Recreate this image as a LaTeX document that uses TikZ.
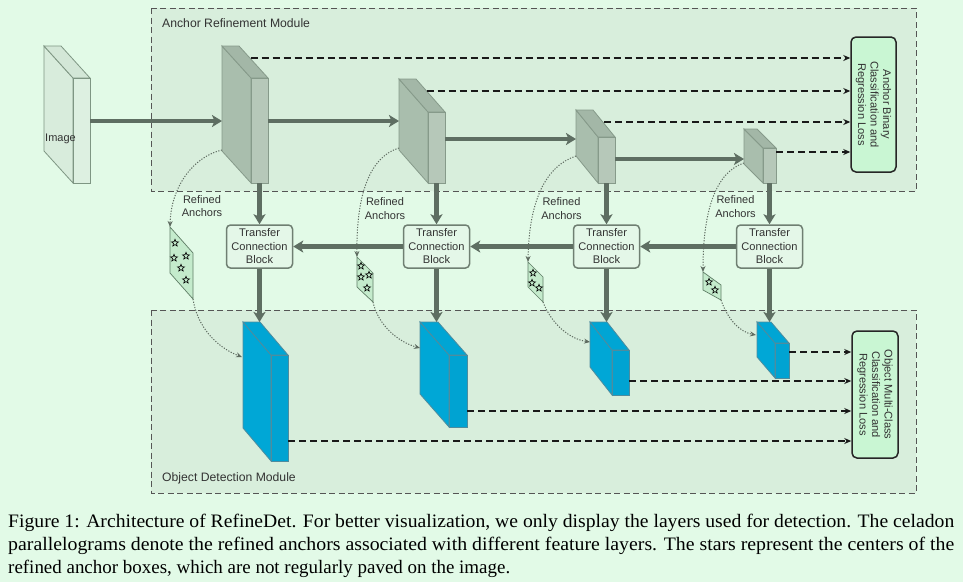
\documentclass[tikz,border=0pt]{standalone}
\usepackage{fontspec}
\setmainfont{Liberation Serif}
\setsansfont{Liberation Sans}
\usetikzlibrary{arrows.meta,shapes.geometric}
\definecolor{bgc}{HTML}{E2FAE7}
\definecolor{modc}{HTML}{D8EEDC}
\definecolor{modedge}{HTML}{555555}
\definecolor{arrc}{HTML}{5E6E62}
\definecolor{grayfront}{HTML}{A9BEAD}
\definecolor{grayside}{HTML}{B6C8B9}
\definecolor{graytop}{HTML}{A3B7A7}
\definecolor{grayedge}{HTML}{869A8A}
\definecolor{imgfront}{HTML}{D8ECDC}
\definecolor{imgside}{HTML}{DDF0E1}
\definecolor{imgtop}{HTML}{D3E7D7}
\definecolor{imgedge}{HTML}{7E9683}
\definecolor{bluefront}{HTML}{00A7D6}
\definecolor{blueside}{HTML}{00A3D2}
\definecolor{bluetop}{HTML}{00A5D4}
\definecolor{blueedge}{HTML}{4E8C9E}
\definecolor{tcbfill}{HTML}{E4F7E8}
\definecolor{tcbedge}{HTML}{6F7F72}
\definecolor{lossfill}{HTML}{C9F6D3}
\definecolor{parafill}{HTML}{C4EBCC}
\definecolor{paraedge}{HTML}{5F7D66}
\definecolor{txt}{HTML}{333333}
\definecolor{dotc}{HTML}{5E6B60}
% #1 name, #2 x0, #3 ytop, #4 w, #5 dx, #6 dy, #7 H, #8 palette
\newcommand\mycuboid[8]{%
  \filldraw[fill=#8front,draw=#8edge,line width=0.8pt] (#2,#3) -- (#2+#5,#3+#6) -- (#2+#5,#3+#6+#7) -- (#2,#3+#7) -- cycle;
  \filldraw[fill=#8top,draw=#8edge,line width=0.8pt] (#2,#3) -- (#2+#4,#3) -- (#2+#4+#5,#3+#6) -- (#2+#5,#3+#6) -- cycle;
  \filldraw[fill=#8side,draw=#8edge,line width=0.8pt] (#2+#5,#3+#6) rectangle (#2+#5+#4,#3+#6+#7);
}
\tikzset{
  module/.style={draw=modedge,fill=modc,line width=0.8pt,dash pattern=on 6pt off 3.5pt},
  modlabel/.style={anchor=west,inner sep=0,font=\sffamily\fontsize{12.2}{14}\selectfont,text=txt},
  thick arrow/.style={draw=arrc,line width=4.5pt,-{Stealth[length=10pt,width=12pt,inset=2.5pt]}},
  dash arrow/.style={draw=black!90,line width=1.2pt,dash pattern=on 7pt off 4pt,-{Stealth[length=7pt,width=6pt]}},
  dot arrow/.style={draw=dotc,line width=1pt,dash pattern=on 1.2pt off 1.5pt,-{Stealth[length=6pt,width=5pt]}},
  tcb/.style={draw=tcbedge,line width=1.5pt,fill=tcbfill,rounded corners=4pt,minimum width=66pt,minimum height=43pt,align=center,inner sep=0,font=\sffamily\fontsize{11.1}{13.5}\selectfont,text=txt},
  loss/.style={draw=black!85,line width=1.5pt,fill=lossfill,rounded corners=5pt,align=center,inner sep=0,font=\sffamily\fontsize{11.1}{12.5}\selectfont,text=txt,rotate=-90},
  para/.style={fill=parafill,draw=paraedge,line width=0.7pt},
  anchorlabel/.style={align=center,inner sep=0,font=\sffamily\fontsize{11}{13.5}\selectfont,text=txt},
  starmark/.style={star,star points=5,star point ratio=2.4,draw=black,line width=0.6pt,minimum size=7.5pt,inner sep=0},
  caption/.style={anchor=base west,inner sep=0,text=black}
}
\begin{document}
\begin{tikzpicture}[x=1pt,y=-1pt]
\fill[bgc] (0,0) rectangle (963,582);
\useasboundingbox (0,0) rectangle (963,582);
% modules
\draw[module] (151,8) rectangle (916,191);
\draw[module] (151,310) rectangle (916,493);
\node[modlabel] (arm) at (162,23) {Anchor Refinement Module};
\node[modlabel] (odm) at (162,478) {Object Detection Module};
% cuboids
\mycuboid{img}{44}{46}{17}{29}{32}{105}{img}
\node[anchor=west,inner sep=0,font=\sffamily\fontsize{11}{13}\selectfont,text=txt] (imglabel) at (45,139) {Image};
\mycuboid{g1}{222}{46}{17}{29}{32}{105}{gray}
\mycuboid{g2}{399}{79}{17}{29}{33}{71}{gray}
\mycuboid{g3}{576}{110}{17}{22}{27}{46}{gray}
\mycuboid{g4}{744}{129}{13}{19}{19}{35}{gray}
\mycuboid{b1}{243}{322}{17}{28}{33}{106}{blue}
\mycuboid{b2}{420}{322}{18}{29}{33}{72}{blue}
\mycuboid{b3}{590}{322}{17}{22}{28}{45}{blue}
\mycuboid{b4}{757}{322}{14}{18}{21}{35}{blue}
% named points
\coordinate (img-out) at (90,121);
\coordinate (g1-in) at (222,121);
\coordinate (g1-out) at (268,121);
\coordinate (g2-in) at (399,121);
\coordinate (g2-out) at (445,139);
\coordinate (g3-in) at (576,139);
\coordinate (g3-out) at (615,159);
\coordinate (g4-in) at (744,159);
\coordinate (g1-bot) at (259.5,183);
\coordinate (g2-bot) at (436.5,183);
\coordinate (g3-bot) at (606.5,183);
\coordinate (g4-bot) at (769.5,183);
\coordinate (g1-d) at (250.5,58);
\coordinate (g2-d) at (426.5,91);
\coordinate (g3-d) at (604,122);
\coordinate (g4-d) at (776,152);
\coordinate (b1-d) at (288,441);
\coordinate (b2-d) at (467,411);
\coordinate (b3-d) at (629,381);
\coordinate (b4-d) at (789,352);
\coordinate (btop) at (0,322);
\coordinate (g1-dot) at (222,150);
\coordinate (g2-dot) at (399,148);
\coordinate (g3-dot) at (576,156);
\coordinate (g4-dot) at (744,163);
\coordinate (b1-dot) at (242,357);
\coordinate (b2-dot) at (420,348);
\coordinate (b3-dot) at (590,342);
\coordinate (b4-dot) at (756,335);
% main arrows
\draw[thick arrow] (img-out) -- (g1-in);
\draw[thick arrow] (g1-out) -- (g2-in);
\draw[thick arrow] (g2-out) -- (g3-in);
\draw[thick arrow] (g3-out) -- (g4-in);
% TCBs
\node[tcb] (t1) at (259.5,246.5) {Transfer\\Connection\\Block};
\node[tcb] (t2) at (436.5,246.5) {Transfer\\Connection\\Block};
\node[tcb] (t3) at (606.5,246.5) {Transfer\\Connection\\Block};
\node[tcb] (t4) at (769.5,246.5) {Transfer\\Connection\\Block};
\draw[thick arrow] (g1-bot) -- (t1.north);
\draw[thick arrow] (g2-bot) -- (t2.north);
\draw[thick arrow] (g3-bot) -- (t3.north);
\draw[thick arrow] (g4-bot) -- (t4.north);
\draw[thick arrow] (t4.west) -- (t3.east);
\draw[thick arrow] (t3.west) -- (t2.east);
\draw[thick arrow] (t2.west) -- (t1.east);
\draw[thick arrow] (t1.south) -- (t1.south |- btop);
\draw[thick arrow] (t2.south) -- (t2.south |- btop);
\draw[thick arrow] (t3.south) -- (t3.south |- btop);
\draw[thick arrow] (t4.south) -- (t4.south |- btop);
% loss boxes
\node[loss,minimum width=135pt,minimum height=45pt] (lb1) at (873.5,104.5) {Anchor Binary\\Classification and\\Regression Loss};
\node[loss,minimum width=127pt,minimum height=46pt] (lb2) at (875,394.5) {Object Multi-Class\\Classification and\\Regression Loss};
\draw[dash arrow] (g1-d) -- (g1-d -| lb1.south);
\draw[dash arrow] (g2-d) -- (g2-d -| lb1.south);
\draw[dash arrow] (g3-d) -- (g3-d -| lb1.south);
\draw[dash arrow] (g4-d) -- (g4-d -| lb1.south);
\draw[dash arrow] (b1-d) -- (b1-d -| lb2.south);
\draw[dash arrow] (b2-d) -- (b2-d -| lb2.south);
\draw[dash arrow] (b3-d) -- (b3-d -| lb2.south);
\draw[dash arrow] (b4-d) -- (b4-d -| lb2.south);
% parallelograms
\filldraw[para] (170,227) coordinate (p1-top) -- (193,253) -- (193,299) coordinate (p1-bot) -- (170,273) -- cycle;
\filldraw[para] (357,257) coordinate (p2-top) -- (373,273) -- (373,302) coordinate (p2-bot) -- (357,287) -- cycle;
\filldraw[para] (528,262) coordinate (p3-top) -- (543,277) -- (543,302) coordinate (p3-bot) -- (528,287) -- cycle;
\filldraw[para] (703,272) coordinate (p4-top) -- (721,285) -- (721,300) coordinate (p4-bot) -- (703,290) -- cycle;
\foreach \p [count=\i] in {(175,243),(174,258),(186,256),(181,268),(186,280),(361,266),(361,277),(369,275),(367,288),(533,273),(532,283),(539,288),(709,282),(715,290)}
  \node[starmark] (st\i) at \p {};
% dotted curves
\draw[dot arrow] (g1-dot) .. controls (195,156) and (171,185) .. (p1-top);
\draw[dot arrow] (p1-bot) .. controls (197,326) and (216,347) .. (b1-dot);
\draw[dot arrow] (g2-dot) .. controls (372,156) and (356,190) .. (p2-top);
\draw[dot arrow] (p2-bot) .. controls (378,325) and (398,342) .. (b2-dot);
\draw[dot arrow] (g3-dot) .. controls (546,166) and (529,200) .. (p3-top);
\draw[dot arrow] (p3-bot) .. controls (552,325) and (570,339) .. (b3-dot);
\draw[dot arrow] (g4-dot) .. controls (716,172) and (703,210) .. (p4-top);
\draw[dot arrow] (p4-bot) .. controls (728,320) and (740,332) .. (b4-dot);
% refined anchor labels
\node[anchorlabel] (ra1) at (202,206) {Refined\\Anchors};
\node[anchorlabel] (ra2) at (385,208.5) {Refined\\Anchors};
\node[anchorlabel] (ra3) at (561.5,208.5) {Refined\\Anchors};
\node[anchorlabel] (ra4) at (735.5,206.5) {Refined\\Anchors};
% caption
\node[caption] (cap1) at (8,527) {\resizebox{946pt}{\height}{\fontsize{19}{23}\selectfont Figure 1: Architecture of RefineDet. For better visualization, we only display the layers used for detection. The celadon}};
\node[caption] (cap2) at (8,550) {\resizebox{946pt}{\height}{\fontsize{19}{23}\selectfont parallelograms denote the refined anchors associated with different feature layers. The stars represent the centers of the}};
\node[caption] (cap3) at (8,573) {\resizebox{502pt}{\height}{\fontsize{19}{23}\selectfont refined anchor boxes, which are not regularly paved on the image.}};
\end{tikzpicture}
\end{document}
